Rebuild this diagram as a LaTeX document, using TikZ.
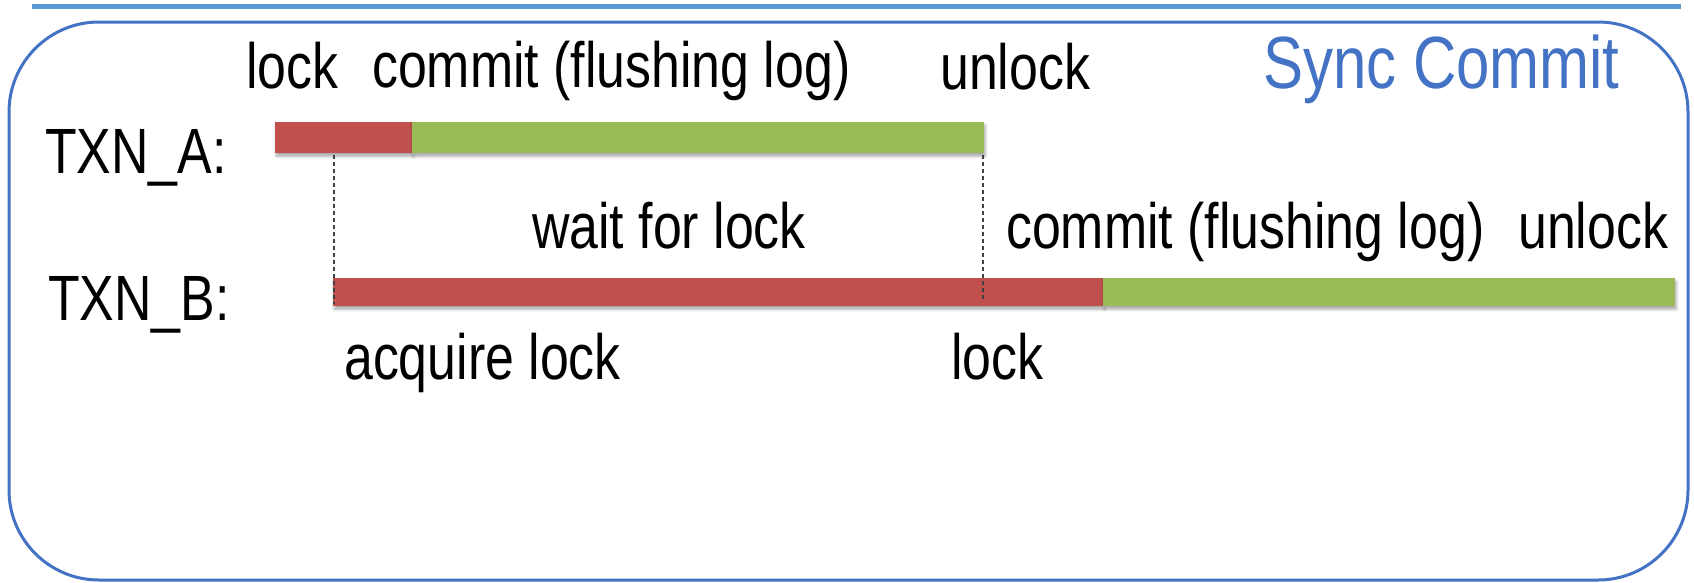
\documentclass[tikz,border=0pt]{standalone}
\usepackage{fontspec}
\setmainfont{Liberation Sans}
\newfontfamily\narrowsans[FakeStretch=0.81]{Liberation Sans}
\usetikzlibrary{shadows.blur}
\definecolor{barred}{HTML}{C0504D}
\definecolor{bargreen}{HTML}{9BBB59}
\definecolor{framebl}{HTML}{4472C4}
\definecolor{rulebl}{HTML}{5B9BD5}
\definecolor{dashgray}{HTML}{404040}
\tikzset{
  lbl/.style={anchor=base west, inner sep=0pt, font=\narrowsans\fontsize{64}{70}\selectfont, text=black},
  title/.style={anchor=base west, inner sep=0pt, font=\narrowsans\fontsize{74}{80}\selectfont, text=framebl},
  bar/.style={rectangle, draw=none, inner sep=0pt, anchor=north west,
    blur shadow={shadow xshift=1pt, shadow yshift=-3pt, shadow blur radius=3pt, shadow opacity=35}},
  redbar/.style={bar, fill=barred},
  greenbar/.style={bar, fill=bargreen},
  waitline/.style={draw=dashgray, line width=1.3pt, dash pattern=on 4pt off 3pt},
}
\begin{document}
\begin{tikzpicture}[x=1pt, y=-1pt]
\useasboundingbox (0,0) rectangle (1694,582);
% header rule and frame
\draw[rulebl, line width=5pt] (32,6) -- (1681,6);
\draw[framebl, line width=3pt, rounded corners=90pt] (9,22) rectangle (1688,580);
\node[title] (ttl) at (1263,88) {Sync Commit};
% labels above TXN_A
\node[lbl] (la1) at (246,88) {lock};
\node[lbl] (la2) at (372,87) {commit (flushing log)};
\node[lbl] (la3) at (940,89) {unlock};
\node[lbl] (ta) at (45,173) {TXN\_A:};
% TXN_A bars
\node[redbar, minimum width=137pt, minimum height=31pt] (ared) at (275,122) {};
\node[greenbar, minimum width=572pt, minimum height=31pt] (agreen) at (412,122) {};
% labels between the rows
\node[lbl] (wait) at (532,248) {wait for lock};
\node[lbl] (lb2) at (1006,248) {commit (flushing log)};
\node[lbl] (lb3) at (1518,248) {unlock};
\node[lbl] (tb) at (48,320) {TXN\_B:};
% TXN_B bars
\node[redbar, minimum width=770pt, minimum height=28pt] (bred) at (333,278) {};
\node[greenbar, minimum width=572pt, minimum height=28pt] (bgreen) at (1103,278) {};
% labels below TXN_B
\node[lbl] (lb1) at (344,379) {acquire lock};
\node[lbl] (lb4) at (951,379) {lock};
% dashed markers
\coordinate (w1a) at (334,155);
\coordinate (w1b) at (334,304);
\coordinate (w2a) at (983,155);
\coordinate (w2b) at (983,300);
\draw[waitline] (w1a) -- (w1b);
\draw[waitline] (w2a) -- (w2b);
\end{tikzpicture}
\end{document}
